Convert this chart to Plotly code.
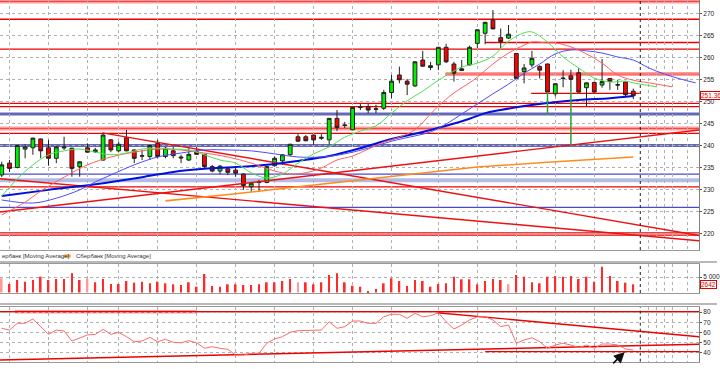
import plotly.graph_objects as go

# ---------------- data ----------------
opens  = [233.3,236.0,235.0,239.2,239.5,241.5,239.5,237.1,239.7,239.4,
          235.2,239.5,238.6,236.7,241.3,238.8,241.8,239.0,237.7,237.5,
          240.5,237.5,238.8,237.4,236.7,238.6,238.0,235.2,234.2,234.7,
          234.4,233.5,230.6,231.7,231.6,235.4,236.5,237.9,242.0,242.0,
          242.4,241.9,241.3,246.2,244.7,243.6,248.8,248.9,248.4,248.5,
          252.1,256.1,254.7,253.6,259.5,257.8,258.4,262.4,258.6,257.1,
          258.4,263.3,265.6,268.6,264.6,264.5,261.0,256.9,258.4,258.0,
          258.6,251.8,255.4,255.9,256.6,253.2,254.4,253.8,255.3,253.9,
          254.5,252.4]
highs  = [236.3,236.7,240.2,240.3,241.8,241.6,241.3,240.0,242.0,239.5,
          236.4,240.5,239.5,242.9,241.5,240.9,243.6,239.1,239.0,240.1,
          241.3,239.7,239.7,237.9,239.4,239.7,238.1,235.6,235.6,235.0,
          235.2,233.6,231.6,232.2,235.3,237.5,238.0,240.4,242.6,242.4,
          242.5,242.6,246.3,248.1,245.4,248.8,249.5,249.6,249.3,252.7,
          256.1,258.0,255.2,259.2,261.6,259.1,262.5,263.2,259.1,259.5,
          262.8,266.5,268.2,270.9,266.7,267.5,261.1,258.6,261.6,258.3,
          258.7,254.2,257.2,257.3,257.6,254.4,254.6,259.7,255.4,255.0,
          254.6,253.0]
lows   = [232.8,234.0,234.8,237.1,237.9,237.1,235.4,236.0,239.0,232.9,
          232.9,238.4,238.3,236.6,238.5,238.5,238.7,236.0,236.7,236.7,
          237.1,237.1,237.1,236.0,236.5,237.9,234.8,233.9,233.5,233.3,
          232.9,229.9,229.5,229.5,231.4,235.2,235.6,237.7,240.9,241.0,
          240.1,241.3,240.3,243.3,244.0,243.5,248.1,247.4,247.4,248.1,
          250.8,254.2,251.5,253.4,258.0,257.2,257.2,258.8,254.6,257.0,
          258.2,262.2,263.1,266.5,262.2,264.3,255.2,254.2,257.8,255.3,
          252.2,251.2,253.3,253.1,252.1,249.0,252.1,253.2,252.7,252.7,
          251.2,250.6]
closes = [235.6,234.8,240.0,239.7,241.7,238.8,237.1,239.7,239.5,234.8,
          236.3,238.5,239.0,242.4,239.0,240.3,238.8,237.1,237.6,240.0,
          237.5,239.4,237.7,237.2,238.0,238.0,235.2,234.2,235.3,233.9,
          233.7,230.9,231.4,231.6,235.2,237.1,237.9,240.3,241.0,241.1,
          241.3,241.7,246.2,244.1,244.6,248.7,248.7,248.1,248.3,252.1,
          254.7,255.0,254.0,259.1,258.1,258.2,262.4,259.1,256.5,257.5,
          262.4,266.4,268.1,266.6,263.7,265.4,255.3,257.7,259.9,257.2,
          252.2,254.1,255.3,255.1,252.2,254.3,252.2,254.6,254.6,253.8,
          251.6,251.36]
spike_idx = [70, 73]
spike_low = [247.0, 240.0]

volumes = [4587,2746,4038,3488,4038,5103,4038,4361,4361,6202,
           4038,4587,3295,4361,2746,2746,3715,3165,3488,2972,
           3488,2972,2649,2423,3295,1873,5976,2100,1873,2649,
           2649,2423,2423,2649,3295,3295,3715,4361,3295,3295,
           2649,3295,5653,6202,3295,2196,1873,485,1131,2972,
           4587,3715,2100,4038,3715,1873,2746,2972,5103,4264,
           4264,2649,3715,4361,4038,2649,5653,5103,3295,2972,
           5103,5330,5103,5330,4361,5103,3488,8333,5330,3715,
           3165,2642]
pale_volume_idx = [0, 11, 38, 65]

rsi = [64.1,62.4,69.0,69.0,73.2,65.7,58.2,62.4,61.5,51.7,
       54.3,57.6,58.2,63.1,58.2,60.2,55.9,51.0,51.7,55.3,
       51.0,53.4,50.4,50.0,52.0,50.0,44.6,46.1,44.6,43.6,
       38.0,38.0,39.7,39.7,49.5,53.7,55.9,60.2,61.8,61.8,
       62.4,62.4,70.5,64.1,65.7,71.2,71.2,69.0,69.0,75.4,
       77.8,77.8,73.9,78.7,75.4,76.4,79.3,70.5,63.4,67.3,
       72.2,75.4,75.4,72.2,65.7,67.3,49.5,52.7,54.9,51.0,
       44.6,47.8,49.5,47.8,45.2,47.8,44.6,48.8,48.8,47.8,
       43.9,42.9]

# Alligator-type moving averages (index, value)
lips_idx = [0,2,4,6,8,10,12,14,16,18,20,22,24,26,28,30,32,34,36,38,40,42,44,46,48,50,52,54,56,58,59,61,63,65,67,68,70,72,74,76,78,80,81,84]
lips_val = [228.5,232.4,235.6,237.9,238.8,239.2,238.5,237.9,238.3,239.2,239.4,239.2,239.0,237.9,236.7,236.0,233.8,232.6,233.5,236.0,
            238.1,239.7,241.9,243.3,244.5,247.4,250.2,252.4,254.9,257.0,257.9,258.8,260.4,263.8,265.7,265.9,263.6,260.2,257.7,255.4,
            254.5,254.7,254.3,253.4]
teeth_idx = [0,3,5,8,11,14,17,20,23,26,29,32,35,37,39,41,43,45,47,49,51,53,55,56,58,60,61,63,65,67,68,70,71,73,75,77,79,81,83,86]
teeth_val = [224.2,227.1,229.6,232.8,235.6,237.4,238.5,239.2,239.0,238.3,237.4,236.0,234.2,233.5,233.8,234.9,236.7,237.6,239.2,240.8,
             241.9,243.6,247.2,249.0,252.0,254.3,255.6,258.6,261.1,262.9,263.6,263.4,263.4,262.5,260.9,258.8,256.1,254.9,254.3,253.4]
jaw_idx = [0,4,7,10,12,14,17,20,23,26,29,32,35,38,41,44,47,50,53,55,57,59,61,63,65,67,69,71,73,75,77,79,81,83,85,87,89]
jaw_val = [227.6,226.9,228.0,229.9,231.7,233.3,235.6,237.4,238.3,239.0,239.0,238.8,238.1,237.4,237.4,238.1,239.4,241.0,242.2,243.1,
           244.9,247.2,249.5,251.8,254.0,256.5,258.6,260.9,261.8,261.6,261.1,260.2,259.5,257.7,256.3,255.2,254.3]
ma_idx = [0,6,12,18,22,26,30,34,38,42,46,50,54,57,60,62,64,67,70,74,78,81]
ma_val = [228.5,229.9,231.2,232.8,234.0,234.7,235.1,235.6,236.5,237.6,239.4,241.5,243.1,244.5,246.1,247.4,248.1,249.0,249.7,250.4,250.8,251.3]
sber_ma_idx = [21,30,38,46,54,61,70,81]
sber_ma_val = [227.4,229.0,230.6,232.2,233.7,235.1,236.2,237.4]

# horizontal levels (price)
red_levels = [268.8, 262.0, 249.6, 248.9, 242.8, 230.6, 220.1, 219.6]
pink_levels = [272.85, 243.9]
blue_thick_levels = [247.2, 240.0]
blue_thin_levels = [233.5, 225.9]
lavender_levels = [232.1]
red_segments = [(62.0, 89.43, 263.5), (67.9, 81.8, 251.9)]   # (from idx, to idx, price)
pink_segments = [(56.9, 89.43, 256.3)]
# trend lines (idx0, price0, idx1, price1)
trend_lines = [(12.9, 242.9, 89.43, 219.5),
               (-0.22, 232.45, 89.43, 218.3),
               (-0.22, 224.85, 89.43, 243.55)]
# RSI panel lines
rsi_levels = [80.3]
rsi_trend_lines = [(55.85, 79.3, 89.43, 55.9),
                   (-0.22, 33.2, 89.43, 48.5),
                   (62.0, 41.3, 89.43, 41.3)]
rsi_pink_segments = [(1.7, 25.0, 80.3)]

price_ticks = [220, 225, 230, 235, 240, 245, 250, 255, 260, 265, 270]
grid_idx = [1, 6, 11, 15, 20, 25, 30, 35, 40, 45, 50, 56, 61, 66, 71, 76, 83, 84, 85, 86, 88]
today_idx = 81.9
last_price = 251.36
last_volume = 2642
legend_left = 'ербанк [Moving Average]'
legend_right = 'Сбербанк [Moving Average]'

# ---------------- figure ----------------
X_MIN, X_MAX = -0.22, 89.43
idx = list(range(len(closes)))
fig = go.Figure()

shapes = []
def hline(x0, x1, y, color, width, yref='y', layer='below'):
    shapes.append(dict(type='line', xref='x', yref=yref, x0=x0, x1=x1, y0=y, y1=y,
                       line=dict(color=color, width=width), layer=layer))

for p in lavender_levels:
    hline(X_MIN, X_MAX, p, '#b4bce6', 4)
for p in blue_thick_levels:
    hline(X_MIN, X_MAX, p, '#6468b8', 3)
for p in blue_thin_levels:
    hline(X_MIN, X_MAX, p, '#4a4ad0', 1.3)
for p in pink_levels:
    hline(X_MIN, X_MAX, p, '#ff9c9c', 4)
    hline(X_MIN, X_MAX, p, '#ff4040', 1)
for a, b, p in pink_segments:
    hline(a, b, p, '#ff9c9c', 4)
    hline(a, b, p, '#ff5050', 1)
for p in red_levels:
    hline(X_MIN, X_MAX, p, '#ee0000', 1.3)
for a, b, p in red_segments:
    hline(a, b, p, '#ee0000', 1.3)

for a, b, p in rsi_pink_segments:
    hline(a, b, p, '#ff9c9c', 3.5, yref='y3')
for p in rsi_levels:
    hline(X_MIN, X_MAX, p, '#ee0000', 1.5, yref='y3')

# today marker (black dotted) in each panel
for yr in ['y domain', 'y2 domain', 'y3 domain']:
    shapes.append(dict(type='line', xref='x', yref=yr, x0=today_idx, x1=today_idx, y0=0, y1=1,
                       line=dict(color='#202020', width=1, dash='dot'), layer='above'))

# separators between panels
for yp, w in [(1 - 262/369, 2), (1 - 304/369, 2)]:
    shapes.append(dict(type='line', xref='paper', yref='paper', x0=0, x1=720/702, y0=yp, y1=yp,
                       line=dict(color='#b8b8b8', width=w)))
# legend swatch
shapes.append(dict(type='line', xref='paper', yref='paper', x0=64/702, x1=71/702,
                   y0=1 - 256/369, y1=1 - 256/369, line=dict(color='#ffa040', width=3)))

# trend lines (main)
for a, pa, b, pb in trend_lines:
    fig.add_trace(go.Scatter(x=[a, b], y=[pa, pb], mode='lines',
                             line=dict(color='#ee1010', width=1.4), hoverinfo='skip'))
# moving averages
fig.add_trace(go.Scatter(x=sber_ma_idx, y=sber_ma_val, mode='lines', line=dict(color='#ff8c1a', width=1.6)))
fig.add_trace(go.Scatter(x=ma_idx, y=ma_val, mode='lines', line=dict(color='#0010d8', width=2, shape='spline')))
fig.add_trace(go.Scatter(x=jaw_idx, y=jaw_val, mode='lines', line=dict(color='#4c4cff', width=1, shape='spline')))
fig.add_trace(go.Scatter(x=teeth_idx, y=teeth_val, mode='lines', line=dict(color='#ff6060', width=1, shape='spline')))
fig.add_trace(go.Scatter(x=lips_idx, y=lips_val, mode='lines', line=dict(color='#50e050', width=1, shape='spline')))

# candles
fig.add_trace(go.Candlestick(
    x=idx, open=opens, high=highs, low=lows, close=closes,
    increasing=dict(fillcolor='#00ee00', line=dict(color='#202020', width=1)),
    decreasing=dict(fillcolor='#ff0000', line=dict(color='#202020', width=1)),
    whiskerwidth=0, hoverinfo='skip'))

# long lower shadows drawn in green
sx, sy = [], []
for k, lo in zip(spike_idx, spike_low):
    sx += [k, k, None]
    sy += [lows[k], lo, None]
fig.add_trace(go.Scatter(x=sx, y=sy, mode='lines', line=dict(color='#2aa040', width=1.5)))

# volume
vcolors = ['#ff9a9a' if i in pale_volume_idx else '#ff2a2a' for i in idx]
fig.add_trace(go.Bar(x=idx, y=volumes, width=0.22, marker=dict(color=vcolors, line=dict(width=0)),
                     xaxis='x2', yaxis='y2'))

# RSI
for a, pa, b, pb in rsi_trend_lines:
    fig.add_trace(go.Scatter(x=[a, b], y=[pa, pb], mode='lines', line=dict(color='#ee0000', width=1.4),
                             xaxis='x3', yaxis='y3'))
fig.add_trace(go.Scatter(x=idx, y=rsi, mode='lines', line=dict(color='#ff6a6a', width=1),
                         xaxis='x3', yaxis='y3'))

grid = dict(showgrid=True, gridcolor='#b0b0b0', griddash='dot', gridwidth=1)
xcommon = dict(range=[X_MIN, X_MAX], tickvals=grid_idx, showticklabels=False, ticks='',
               zeroline=False, showline=True, linecolor='#9a9a9a', linewidth=1, **grid)
ycommon = dict(side='right', ticks='outside', ticklen=2, tickcolor='#555', showline=True,
               linecolor='#808080', linewidth=1, zeroline=False,
               tickfont=dict(size=6.5, color='#222', family='Liberation Sans, Arial, sans-serif'), **grid)

fig.update_layout(
    width=720, height=369, margin=dict(l=0, r=18, t=0, b=0),
    paper_bgcolor='white', plot_bgcolor='white', showlegend=False, hovermode=False,
    font=dict(family='Liberation Sans, Arial, sans-serif', size=7, color='#222'),
    xaxis=dict(anchor='y', rangeslider=dict(visible=False), **xcommon),
    xaxis2=dict(anchor='y2', matches='x', mirror=True, **xcommon),
    xaxis3=dict(anchor='y3', matches='x', mirror=True, **xcommon),
    yaxis=dict(domain=[1 - 250/369, 1], range=[216.19, 273.19], tickvals=price_ticks,
               anchor='x', **ycommon),
    yaxis2=dict(domain=[1 - 293/369, 1 - 264/369], range=[-160, 9205], tickvals=[5000],
                ticktext=['5 000'], anchor='x2', **ycommon),
    yaxis3=dict(domain=[1 - 361.7/369, 1 - 307/369], range=[31.5, 84.9],
                tickvals=[40, 50, 60, 70, 80], anchor='x3', **ycommon),
    shapes=shapes,
)

annotations = [
    dict(xref='paper', yref='y', x=1.002, y=last_price, xanchor='left', yanchor='middle',
         text=f'{last_price:.2f}', showarrow=False, font=dict(size=6.5, color='#e00000'),
         bgcolor='white', bordercolor='#e00000', borderwidth=1, borderpad=0),
    dict(xref='paper', yref='y2', x=1.002, y=last_volume, xanchor='left', yanchor='middle',
         text=str(last_volume), showarrow=False, font=dict(size=6.5, color='#e00000'),
         bgcolor='white', bordercolor='#e00000', borderwidth=1, borderpad=0),
    dict(xref='paper', yref='paper', x=0.0, y=1 - 256/369, xanchor='left', yanchor='middle',
         text=legend_left, showarrow=False, font=dict(size=6, color='#333')),
    dict(xref='paper', yref='paper', x=74/702, y=1 - 256/369, xanchor='left', yanchor='middle',
         text=legend_right, showarrow=False, font=dict(size=6, color='#333')),
    dict(xref='x3', yref='y3', x=79.9, y=41.0, ax=-13, ay=13, showarrow=True,
         arrowhead=2, arrowsize=1.2, arrowwidth=1.8, arrowcolor='#111', text=''),
]
fig.update_layout(annotations=annotations)

fig.write_html("out.html", config={'displayModeBar': False},
               post_script="document.body.style.margin='0';document.body.style.padding='0';")
